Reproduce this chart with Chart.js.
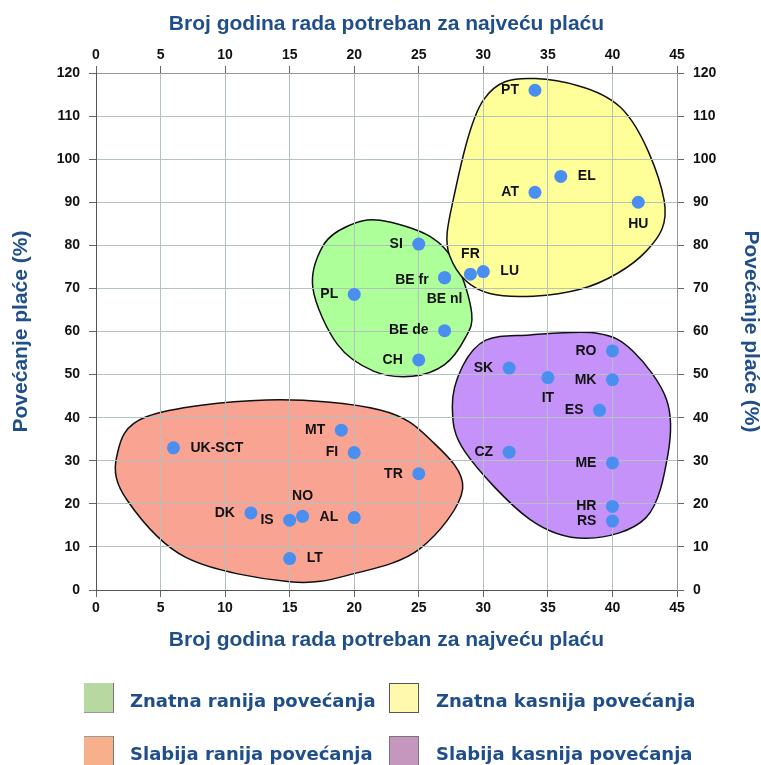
<!DOCTYPE html>
<html>
<head>
<meta charset="utf-8">
<script src="https://cdn.jsdelivr.net/npm/chart.js@4.4.1/dist/chart.umd.min.js"></script>
<style>
    body { margin: 0; background: #fff; }
    #wrap { position: relative; width: 761px; height: 765px; }
    .sw { position: absolute; width: 30px; height: 30px; box-sizing: border-box; }
    .lt { position: absolute; font: bold 18px "DejaVu Sans", Verdana, sans-serif; color: #1f4e8a; line-height: 30px; white-space: nowrap; }
</style>
</head>
<body>
<div id="wrap">
    <canvas id="pensionChart" width="761" height="765"></canvas>

    <div class="sw" style="left:84px;top:683px;background:#b7d8a1;border-right:1px solid #777;border-bottom:1px solid #999;"></div>
    <div class="lt" style="left:130px;top:686px;">Znatna ranija povećanja</div>
    <div class="sw" style="left:389px;top:683px;background:#fff9ad;border:1px solid #555;"></div>
    <div class="lt" style="left:436px;top:686px;">Znatna kasnija povećanja</div>
    <div class="sw" style="left:84px;top:736px;background:#f7b08c;border-right:1px solid #777;border-top:1px solid #999;"></div>
    <div class="lt" style="left:130px;top:739px;">Slabija ranija povećanja</div>
    <div class="sw" style="left:389px;top:736px;background:#c597bf;border:1px solid #777;"></div>
    <div class="lt" style="left:436px;top:739px;">Slabija kasnija povećanja</div>
</div>

<script>
// data
const countries = ['PT', 'EL', 'AT', 'HU', 'SI', 'BE fr', 'BE nl', 'FR', 'LU', 'PL', 'BE de', 'CH', 'RO', 'SK', 'IT',
    'MK', 'ES', 'CZ', 'ME', 'HR', 'RS', 'TR', 'MT', 'UK-SCT', 'FI', 'NO', 'DK', 'IS', 'AL', 'LT'];
const years = [34, 36, 34, 42, 25, 27, 27, 29, 30, 20, 27, 25, 40, 32, 35,
    40, 39, 32, 40, 40, 40, 25, 19, 6, 20, 16, 12, 15, 20, 15];
const increase = [116, 96, 92.3, 90, 80.3, 72.5, 72.5, 73.3, 73.9, 68.6, 60.2, 53.4, 55.5, 51.5, 49.3,
    48.8, 41.7, 32, 29.5, 19.4, 16, 27, 37.1, 33, 31.9, 17.1, 17.9, 16.2, 16.8, 7.3];

const xTicks = [0, 5, 10, 15, 20, 25, 30, 35, 40, 45];
const yTicks = [0, 10, 20, 30, 40, 50, 60, 70, 80, 90, 100, 110, 120];

// group outlines (x = years, y = %)
const greenBlob = [[22, 85.8], [25.9, 82], [28, 75], [29.1, 64.2], [28.6, 58.5], [27, 52.3], [24.5, 49.6],
    [21.5, 50.8], [18.7, 57], [16.8, 70], [17.6, 80], [19.6, 84.6]];
const yellowBlob = [[34, 118.7], [40.6, 112.1], [44, 90.5], [42.6, 78.6], [37.5, 69.8], [30.5, 68.8],
    [27.4, 77.5], [27.7, 91], [30, 113.7]];
const redBlob = [[13.2, 44.1], [22, 41.8], [26, 34.6], [28.4, 23.5], [25.1, 9.6], [20, 3.8], [15, 1.9],
    [7, 7.5], [2.4, 20.9], [1.6, 30.9], [3.9, 40.2]];
const purpleBlob = [[33.6, 59.2], [38.8, 59.6], [41.6, 55.4], [44.2, 44.1], [44.3, 31.5], [42.6, 16.8],
    [38, 12], [33.6, 16.4], [28.6, 32], [27.6, 42.5], [28.4, 52], [30.2, 58]];

const blobs = [
    { pts: greenBlob, color: '#adff99' },
    { pts: yellowBlob, color: '#ffff99' },
    { pts: redBlob, color: '#f9a393' },
    { pts: purpleBlob, color: '#c492f9' },
];

// label placement: [align, dx, dy]
const L = ['right', -16, 0], R = ['left', 17, 0];
const labelPos = {
    'PT': L, 'EL': R, 'AT': L, 'HU': ['center', 0, 22], 'SI': L, 'BE fr': ['right', -16, 2],
    'BE nl': ['center', 0, 21], 'FR': ['center', 0, -20], 'LU': R, 'PL': L, 'BE de': L, 'CH': L,
    'RO': L, 'SK': L, 'IT': ['center', 0, 21], 'MK': L, 'ES': L, 'CZ': L, 'ME': L, 'HR': L, 'RS': L,
    'TR': L, 'MT': L, 'UK-SCT': R, 'FI': L, 'NO': ['center', 0, -20], 'DK': L, 'IS': L, 'AL': L, 'LT': R
};

const titleColor = '#1f4e8a';
const gridColor = '#b3c1c1';
const tickFont = { family: '"Liberation Sans", Arial, sans-serif', size: 14, weight: 'bold' };
const titleFont = { family: '"Liberation Sans", Arial, sans-serif', size: 21, weight: 'bold' };
const xTitle = 'Broj godina rada potreban za najveću plaću';
const yTitle = 'Povećanje plaće (%)';

// closed smooth outline behind the grid
const blobPlugin = {
    id: 'blobs',
    beforeDraw(chart) {
        const { ctx, scales: { x, y } } = chart;
        ctx.save();
        blobs.forEach(b => {
            const p = b.pts.map(d => [x.getPixelForValue(d[0]), y.getPixelForValue(d[1])]);
            const n = p.length;
            ctx.beginPath();
            ctx.moveTo(p[0][0], p[0][1]);
            for (let i = 0; i < n; i++) {
                const p0 = p[(i - 1 + n) % n], p1 = p[i], p2 = p[(i + 1) % n], p3 = p[(i + 2) % n];
                ctx.bezierCurveTo(
                    p1[0] + (p2[0] - p0[0]) / 6, p1[1] + (p2[1] - p0[1]) / 6,
                    p2[0] - (p3[0] - p1[0]) / 6, p2[1] - (p3[1] - p1[1]) / 6,
                    p2[0], p2[1]);
            }
            ctx.closePath();
            ctx.fillStyle = b.color;
            ctx.fill();
            ctx.lineWidth = 1.5;
            ctx.strokeStyle = '#111';
            ctx.stroke();
        });
        ctx.restore();
    }
};

const labelPlugin = {
    id: 'pointLabels',
    afterDatasetsDraw(chart) {
        const { ctx } = chart;
        const meta = chart.getDatasetMeta(0);
        ctx.save();
        ctx.font = 'bold 14px "Liberation Sans", Arial, sans-serif';
        ctx.fillStyle = '#111';
        ctx.textBaseline = 'middle';
        meta.data.forEach((pt, i) => {
            const pos = labelPos[countries[i]] || L;
            ctx.textAlign = pos[0];
            ctx.fillText(countries[i], pt.x + pos[1], pt.y + pos[2]);
        });
        ctx.restore();
    }
};

const axisTicks = (values) => ({
    color: '#111',
    font: tickFont,
    autoSkip: false,
    stepSize: 5,
    callback: v => v
});

const pensionChart = () => {
    const ctx = document.getElementById('pensionChart').getContext('2d');

    new Chart(ctx, {
        type: 'scatter',
        data: {
            datasets: [{
                data: years.map((v, i) => ({ x: v, y: increase[i] })),
                backgroundColor: '#4a8ff0',
                borderColor: '#4a8ff0',
                pointRadius: 6.5,
                pointHoverRadius: 6.5,
                borderWidth: 0,
            }]
        },
        options: {
            responsive: false,
            animation: false,
            layout: { padding: { left: 0, right: 0, top: 0, bottom: 112 } },
            scales: {
                x: {
                    type: 'linear', position: 'bottom',
                    min: xTicks[0], max: xTicks[xTicks.length - 1],
                    afterBuildTicks: s => { s.ticks = xTicks.map(v => ({ value: v })); },
                    ticks: { color: '#111', font: tickFont, padding: 3, autoSkip: false, maxRotation: 0 },
                    grid: { color: gridColor, tickLength: 7, tickColor: '#666' },
                    border: { color: '#555' },
                    title: { display: true, text: xTitle, color: titleColor, font: titleFont, padding: { top: 0, bottom: 0 } },
                    afterFit: s => { s.height = 63; }
                },
                x2: {
                    type: 'linear', position: 'top',
                    min: xTicks[0], max: xTicks[xTicks.length - 1],
                    afterBuildTicks: s => { s.ticks = xTicks.map(v => ({ value: v })); },
                    ticks: { color: '#111', font: tickFont, padding: 2, autoSkip: false, maxRotation: 0 },
                    grid: { drawOnChartArea: false, tickLength: 7, tickColor: '#666' },
                    border: { color: '#999' },
                    title: { display: true, text: xTitle, color: titleColor, font: titleFont, padding: { top: 12, bottom: 0 } },
                    afterFit: s => { s.height = 73; }
                },
                y: {
                    type: 'linear', position: 'left',
                    min: yTicks[0], max: yTicks[yTicks.length - 1],
                    afterBuildTicks: s => { s.ticks = yTicks.map(v => ({ value: v })); },
                    ticks: { color: '#111', font: tickFont, padding: 9, autoSkip: false },
                    grid: { color: gridColor, tickLength: 7, tickColor: '#666' },
                    border: { color: '#555' },
                    title: { display: true, text: yTitle, color: titleColor, font: titleFont, padding: { top: 9, bottom: 0 } },
                    afterFit: s => { s.width = 96; }
                },
                y2: {
                    type: 'linear', position: 'right',
                    min: yTicks[0], max: yTicks[yTicks.length - 1],
                    afterBuildTicks: s => { s.ticks = yTicks.map(v => ({ value: v })); },
                    ticks: { color: '#111', font: tickFont, padding: 9, autoSkip: false },
                    grid: { drawOnChartArea: false, tickLength: 7, tickColor: '#666' },
                    border: { color: '#999' },
                    title: { display: true, text: yTitle, color: titleColor, font: titleFont, padding: { top: -2, bottom: 0 } },
                    afterFit: s => { s.width = 84; }
                }
            },
            plugins: {
                legend: { display: false },
                tooltip: { enabled: false }
            }
        },
        plugins: [blobPlugin, labelPlugin]
    });
}

document.addEventListener('DOMContentLoaded', pensionChart);
</script>
</body>
</html>
